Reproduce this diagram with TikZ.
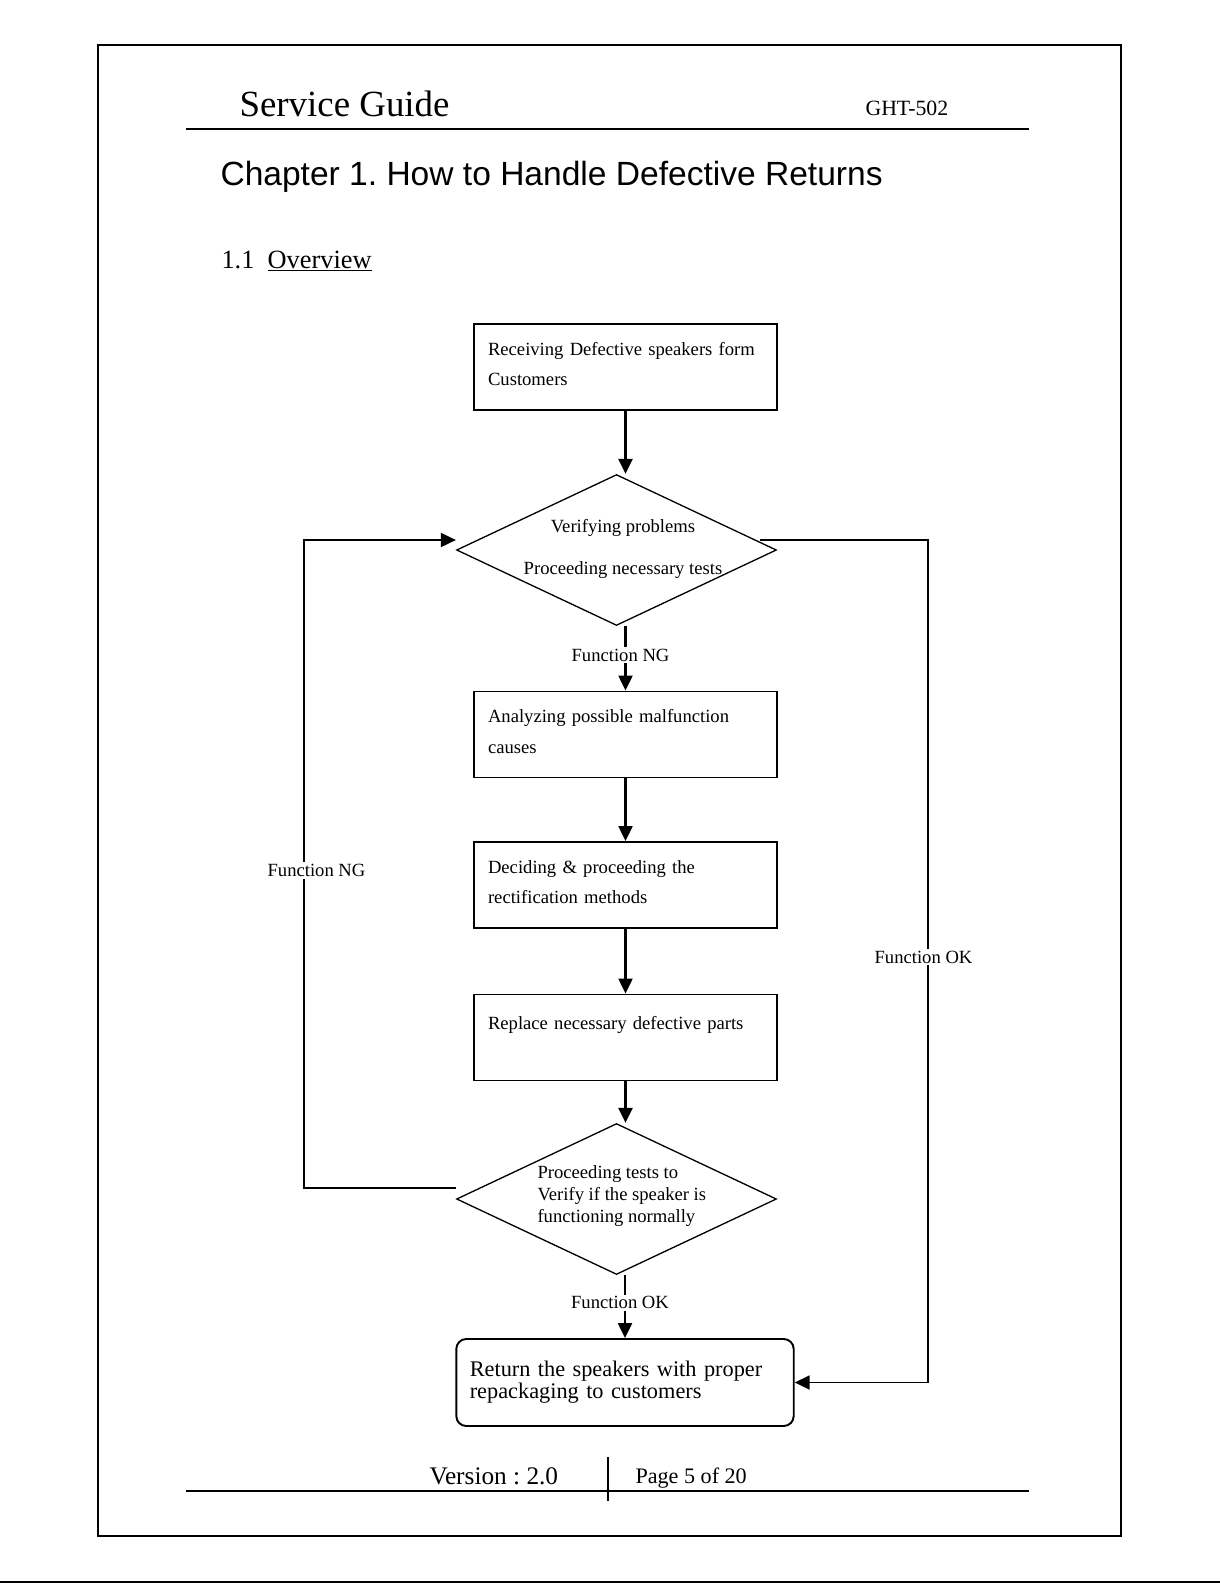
\documentclass[tikz,border=0pt]{standalone}
\usepackage{fontspec}
\setmainfont{Liberation Serif}
\newfontfamily\arialf{Liberation Sans}
\usetikzlibrary{arrows.meta,shapes.geometric,calc}
\frenchspacing

\tikzset{
  caja/.style={draw,line width=1.1pt,minimum width=6.06cm,minimum height=1.72cm,
    text width=5.5cm,text height=0.14cm,align=left,inner xsep=0.28cm,font=\fontsize{10.6pt}{17.2pt}\selectfont},
  rombo/.style={draw,diamond,line width=0.75pt,minimum width=6.4cm,minimum height=3.02cm,
    inner sep=0pt,aspect=2.12},
  flecha/.style={line width=1.3pt,->},
  etiq/.style={fill=white,inner sep=1pt,font=\fontsize{10.6pt}{12pt}\selectfont},
  texto/.style={anchor=base west,inner sep=0pt},
}

\begin{document}
\begin{tikzpicture}[x=0.02cm,y=-0.02cm,line width=0.6pt,>={Triangle[length=3mm,width=2.8mm]}]
  \useasboundingbox (0,0) rectangle (1220,1583);
  % marco de la pagina
  \draw[line width=0.7pt] (98,45) rectangle (1121,1536);
  \draw[line width=1.2pt] (0,1582) -- (1220,1582);
  % encabezado
  \node[texto,font=\fontsize{21pt}{24pt}\selectfont] (guia) at (239,116) {Service Guide};
  \node[texto,font=\fontsize{12.4pt}{14pt}\selectfont] (modelo) at (865,115) {GHT-502};
  \draw[line width=0.8pt] (186,129) -- (1029,129);
  \node[texto,font=\arialf\fontsize{19.1pt}{22pt}\selectfont] (capitulo) at (220,185) {Chapter 1. How to Handle Defective Returns};
  \node[texto,font=\fontsize{15pt}{18pt}\selectfont] (seccion) at (221,268) {1.1\hspace{0.5em}\underline{Overview}};
  % cajas y rombos
  \node[caja] (r1) at (625.5,367) {Receiving Defective speakers form\\Customers};
  \node[rombo] (d1) at (616.5,550) {};
  \node[align=center,inner sep=0pt,font=\fontsize{10.6pt}{24.2pt}\selectfont] (d1txt) at (623,549) {Verifying problems\\Proceeding necessary tests};
  \node[caja] (r2) at (625.5,734.5) {Analyzing possible malfunction\\causes};
  \node[caja] (r3) at (625.5,885) {Deciding \& proceeding the\\rectification methods};
  \node[caja,text height=0.3cm] (r4) at (625.5,1037.5) {Replace necessary defective parts\\\mbox{}};
  \node[rombo] (d2) at (616.5,1199) {};
  \node[anchor=west,align=left,inner sep=0pt,font=\fontsize{10.6pt}{12.3pt}\selectfont] (d2txt) at (537,1196) {Proceeding tests to\\Verify if the speaker is\\functioning normally};
  \node[caja,rounded corners=0.2cm,minimum width=6.75cm,minimum height=1.74cm,text width=6.21cm,text height=0.28cm,
    inner xsep=0.27cm,font=\fontsize{12.7pt}{12.6pt}\selectfont] (r5) at (625,1382.5) {Return the speakers with proper\\repackaging to customers};
  % flujo principal
  \draw[flecha] (r1.south) -- (r1.south |- d1.north);
  \draw[flecha] (d1.south -| r2.north) -- node[etiq,pos=.45,xshift=-0.1cm]{Function NG} (r2.north);
  \draw[flecha] (r2.south) -- (r3.north);
  \draw[flecha] (r3.south) -- (r4.north);
  \draw[flecha] (r4.south) -- (r4.south |- d2.north);
  \draw[flecha] (d2.south -| r5.north) -- node[etiq,pos=.44,xshift=-0.1cm]{Function OK} (r5.north);
  % lazos laterales
  \coordinate (ngdesde) at ($(d2.west)+(0,-11)$);
  \coordinate (nghasta) at ($(d1.west)+(0,-10)$);
  \coordinate (okdesde) at ($(d1.east)+(-17.5,-10)$);
  \coordinate (izq) at (304,540);
  \coordinate (der) at (928,540);
  \draw[flecha,line width=1pt] (ngdesde) -- (ngdesde -| izq) -- node[etiq,pos=.49,xshift=0.25cm]{Function NG} (izq) -- (nghasta);
  \draw[flecha,line width=1pt] (okdesde) -- (der) -- node[etiq,pos=.495,xshift=-0.09cm]{Function OK} (der |- r5.east) -- (r5.east);
  % pie de pagina
  \draw[line width=0.8pt] (186,1491) -- (1029,1491);
  \draw[line width=0.8pt] (608,1457) -- (608,1501);
  \node[texto,font=\fontsize{14.4pt}{16pt}\selectfont] (version) at (429,1484) {Version : 2.0};
  \node[texto,font=\fontsize{12.6pt}{14pt}\selectfont] (pagina) at (635,1483) {Page 5 of 20};
\end{tikzpicture}
\end{document}
